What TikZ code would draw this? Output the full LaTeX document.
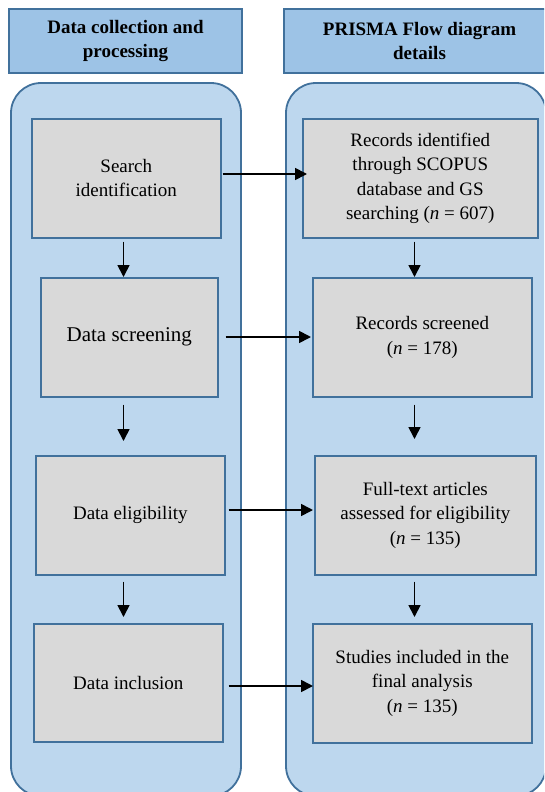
\documentclass[tikz,border=0pt]{standalone}
\usepackage{fontspec}
\setmainfont{Liberation Serif}
\usetikzlibrary{arrows.meta}
\definecolor{hdrfill}{HTML}{9DC3E6}
\definecolor{edge}{HTML}{41719C}
\definecolor{contfill}{HTML}{BDD7EE}
\definecolor{boxfill}{HTML}{D9D9D9}
\tikzset{
  hdr/.style={draw=edge, line width=2pt, fill=hdrfill},
  hdrtext/.style={font=\fontsize{19}{24}\selectfont\bfseries, align=center},
  cont/.style={draw=edge, line width=1.8pt, fill=contfill, rounded corners=30pt},
  stepbox/.style={draw=edge, line width=1.6pt, fill=boxfill, font=\fontsize{19}{24.3}\selectfont, align=center, inner sep=0pt, anchor=north west},
  arr/.style={line width=1.7pt, -{Triangle[length=12pt,width=12pt]}}
}
\begin{document}
\begin{tikzpicture}[x=1pt,y=-1pt]
\useasboundingbox (0,0) rectangle (544,792);
\clip (0,0) rectangle (544,792);
\fill[white] (0,0) rectangle (544,792);
% headers
\draw[hdr] (9,9) rectangle (242,73);
\node[hdrtext] (h1) at (125.5,41) {Data collection and\\processing};
\draw[hdr] (284,9) rectangle (570,73);
\node[hdrtext] (h2) at (419.5,41) {PRISMA Flow diagram\\details};
% containers
\draw[cont] (11,83) rectangle (241,796);
\draw[cont] (286,83) rectangle (546,796);
% left boxes
\node[stepbox, minimum width=189pt, minimum height=119pt] (b1) at (31,118) {Search\\identification};
\node[stepbox, minimum width=177pt, minimum height=119pt, font=\fontsize{21}{25}\selectfont] (b2) at (40,277) {Data screening};
\node[stepbox, minimum width=189pt, minimum height=119pt] (b3) at (35,455) {Data eligibility};
\node[stepbox, minimum width=189pt, minimum height=118pt] (b4) at (33,623) {Data inclusion};
% right boxes
\node[stepbox, minimum width=235pt, minimum height=119pt] (r1) at (302,118) {Records identified\\through SCOPUS\\database and GS\\searching (\textit{n} = 607)};
\node[stepbox, minimum width=219pt, minimum height=119pt] (r2) at (312,277) {Records screened\\(\textit{n} = 178)};
\node[stepbox, minimum width=221pt, minimum height=119pt] (r3) at (314,455) {Full-text articles\\assessed for eligibility\\(\textit{n} = 135)};
\node[stepbox, minimum width=219pt, minimum height=119pt] (r4) at (312,623) {Studies included in the\\final analysis\\(\textit{n} = 135)};
% helper coordinates
\coordinate (cl) at (123.5,0);
\coordinate (cr) at (414.5,0);
\coordinate (y1) at (0,174);
\coordinate (y2) at (0,337);
\coordinate (y3) at (0,510);
\coordinate (y4) at (0,686);
% down arrows
\draw[arr, shorten <=3pt] (b1.south -| cl) -- (b2.north -| cl);
\draw[arr, shorten <=7pt, shorten >=14pt] (b2.south -| cl) -- (b3.north -| cl);
\draw[arr, shorten <=6pt, shorten >=6pt] (b3.south -| cl) -- (b4.north -| cl);
\draw[arr, shorten <=3pt] (r1.south -| cr) -- (r2.north -| cr);
\draw[arr, shorten <=7pt, shorten >=16pt] (r2.south -| cr) -- (r3.north -| cr);
\draw[arr, shorten <=6pt, shorten >=6pt] (r3.south -| cr) -- (r4.north -| cr);
% horizontal arrows
\draw[arr, shorten <=1pt, shorten >=-5pt] (b1.east |- y1) -- (r1.west |- y1);
\draw[arr, shorten <=7pt, shorten >=1pt] (b2.east |- y2) -- (r2.west |- y2);
\draw[arr, shorten <=3pt, shorten >=1pt] (b3.east |- y3) -- (r3.west |- y3);
\draw[arr, shorten <=5pt, shorten >=-1pt] (b4.east |- y4) -- (r4.west |- y4);
\end{tikzpicture}
\end{document}
